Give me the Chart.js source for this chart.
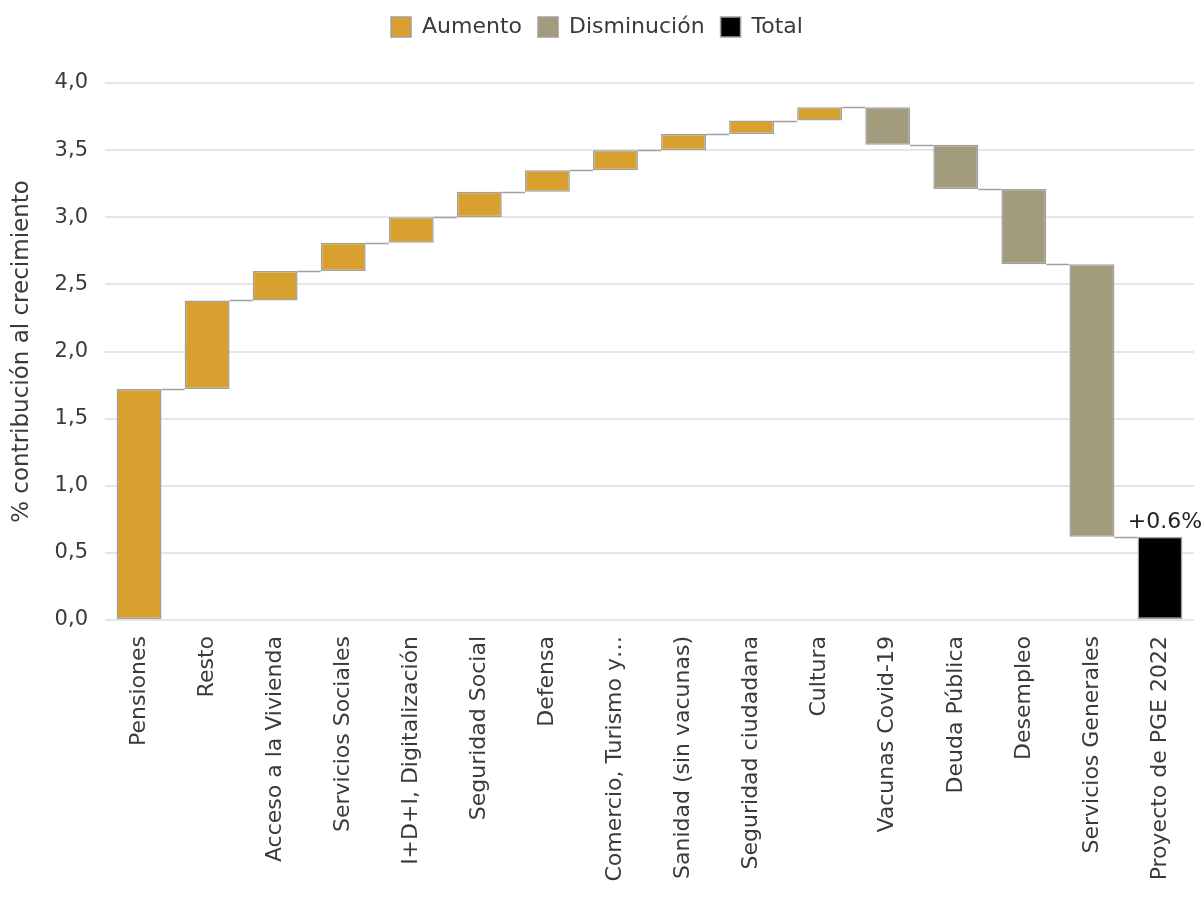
<!DOCTYPE html>
<html>
<head>
<meta charset="utf-8">
<script src="https://cdn.jsdelivr.net/npm/chart.js@4/dist/chart.umd.min.js"></script>
<style>
  html, body { margin: 0; padding: 0; background: #fff; overflow: hidden; }
  #wrap { width: 1202px; height: 904px; }
</style>
</head>
<body>
<div id="wrap"><canvas id="myChart"></canvas></div>
<script>
// categorias del gasto
const categories = [
  "Pensiones", "Resto", "Acceso a la Vivienda", "Servicios Sociales",
  "I+D+I, Digitalización", "Seguridad Social", "Defensa", "Comercio, Turismo y…",
  "Sanidad (sin vacunas)", "Seguridad ciudadana", "Cultura", "Vacunas Covid-19",
  "Deuda Pública", "Desempleo", "Servicios Generales", "Proyecto de PGE 2022"
];
// inicio y fin de cada barra (% contribución)
const barStart = [0, 1.72, 2.38, 2.60, 2.81, 3.00, 3.19, 3.35, 3.50, 3.62, 3.72, 3.82, 3.54, 3.21, 2.65, 0];
const barEnd   = [1.72, 2.38, 2.60, 2.81, 3.00, 3.19, 3.35, 3.50, 3.62, 3.72, 3.82, 3.54, 3.21, 2.65, 0.62, 0.62];
const barType  = ["Aumento","Aumento","Aumento","Aumento","Aumento","Aumento","Aumento","Aumento",
                  "Aumento","Aumento","Aumento","Disminución","Disminución","Disminución","Disminución","Total"];
const legendNames = ["Aumento", "Disminución", "Total"];
const yTicks = [0, 0.5, 1, 1.5, 2, 2.5, 3, 3.5, 4];
const totalLabel = "+0.6%";

const colors = {"Aumento": "#D8A02E", "Disminución": "#A29B7C", "Total": "#000000"};
const FONT = "'DejaVu Sans', sans-serif";
const textColor = "#3A3A3A";

const data = barStart.map(function (s, i) { return [s, barEnd[i]]; });

// espacio bajo la leyenda
const legendSpace = {
  id: "legendSpace",
  beforeInit(chart) {
    const fit = chart.legend.fit;
    chart.legend.fit = function () {
      fit.bind(chart.legend)();
      this.height = 83;
    };
  }
};

// lineas que unen las barras
const connectors = {
  id: "connectors",
  afterDatasetsDraw(chart) {
    const ctx = chart.ctx;
    const meta = chart.getDatasetMeta(0);
    const y = chart.scales.y;
    ctx.save();
    ctx.strokeStyle = "#A0A0A0";
    ctx.lineWidth = 1.5;
    for (let i = 0; i < meta.data.length - 1; i++) {
      const a = meta.data[i], b = meta.data[i + 1];
      const py = Math.round(y.getPixelForValue(barEnd[i])) + 0.5;
      ctx.beginPath();
      ctx.moveTo(a.x + a.width / 2, py);
      ctx.lineTo(b.x - b.width / 2, py);
      ctx.stroke();
    }
    // etiqueta del total
    const last = meta.data[meta.data.length - 1];
    ctx.fillStyle = "#222";
    ctx.font = "22px " + FONT;
    ctx.textAlign = "center";
    ctx.textBaseline = "bottom";
    ctx.fillText(totalLabel, last.x + 5, y.getPixelForValue(barEnd[barEnd.length - 1]) - 3);
    ctx.restore();
  }
};

new Chart(
  document.getElementById("myChart"),
  {
    type: "bar",
    data: {
      labels: categories,
      datasets: [
        {
          label: "contribución",
          data: data,
          backgroundColor: barType.map(function (t) { return colors[t]; }),
          borderColor: "#A0A0A0",
          borderWidth: 1.5,
          borderSkipped: false,
          categoryPercentage: 0.66,
          barPercentage: 1.0
        }
      ]
    },
    options: {
      responsive: true,
      maintainAspectRatio: false,
      animation: false,
      layout: { padding: { left: 0, right: 8, top: 0, bottom: 0 } },
      plugins: {
        tooltip: { enabled: false },
        legend: {
          position: "top",
          labels: {
            font: { family: FONT, size: 22 },
            color: textColor,
            boxWidth: 20,
            boxHeight: 20,
            padding: 16,
            generateLabels: function () {
              return legendNames.map(function (n) {
                return { text: n, fillStyle: colors[n], strokeStyle: "#A0A0A0", lineWidth: 1.5, fontColor: textColor };
              });
            }
          },
          onClick: null
        }
      },
      scales: {
        x: {
          grid: { display: false },
          border: { display: false },
          ticks: {
            autoSkip: false,
            maxRotation: 90,
            minRotation: 90,
            color: textColor,
            font: { family: FONT, size: 22 },
            padding: 8
          },
          afterFit: function (scale) { scale.height = 284; }
        },
        y: {
          min: 0,
          max: 4,
          afterBuildTicks: function (scale) { scale.ticks = yTicks.map(function (v) { return { value: v }; }); },
          afterFit: function (scale) { scale.width = 105; },
          grid: { color: "#E6E6E6", lineWidth: 2, drawTicks: false },
          border: { display: false },
          ticks: {
            color: textColor,
            font: { family: FONT, size: 21 },
            padding: 17,
            callback: function (v) { return Number(v).toFixed(1).replace(".", ","); }
          },
          title: {
            display: true,
            text: "% contribución al crecimiento",
            color: textColor,
            font: { family: FONT, size: 23 },
            padding: { top: 8, bottom: 0 }
          }
        }
      }
    },
    plugins: [legendSpace, connectors]
  }
);
</script>
</body>
</html>
